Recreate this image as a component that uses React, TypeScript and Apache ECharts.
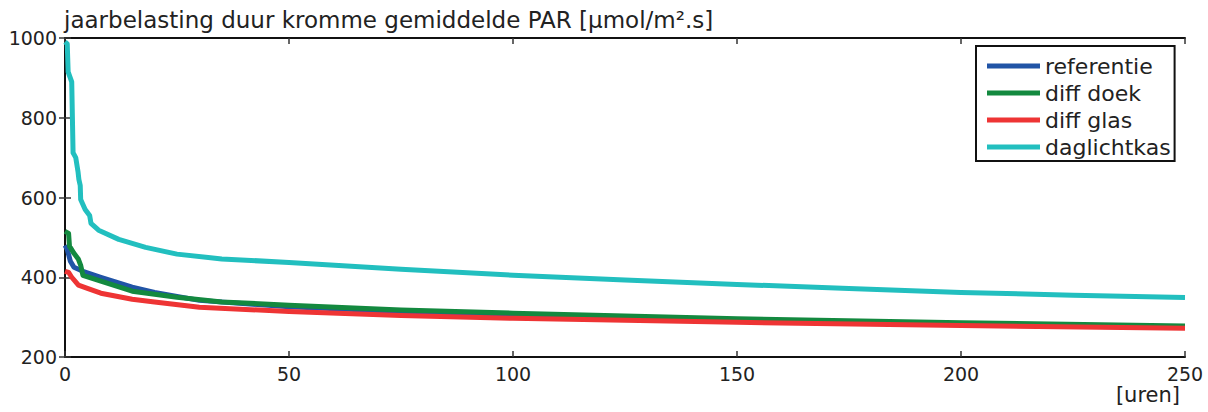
import React, { useEffect, useRef } from 'react';
import * as echarts from 'echarts';

const FONT = 'DejaVu Sans';

const titleText = 'jaarbelasting duur kromme gemiddelde PAR [µmol/m².s]';
const xUnit = '[uren]';
const seriesNames = ['referentie', 'diff doek', 'diff glas', 'daglichtkas'];
const seriesColors = ['#2154a6', '#13893f', '#ee3434', '#22bfbf'];

const refHours = [0, 0.5, 1.2, 2, 4, 8, 15, 20, 30, 50, 75, 100, 150, 200, 250];
const refValues = [480, 470, 440, 425, 415, 400, 375, 362, 342, 326, 314, 304, 291, 281, 274];

const doekHours = [0, 0.8, 1, 2, 3, 3.5, 4, 8, 15, 25, 35, 50, 75, 100, 150, 200, 250];
const doekValues = [515, 510, 478, 460, 445, 430, 405, 390, 365, 350, 338, 330, 318, 310, 296, 286, 278];

const glasHours = [0, 0.8, 1.5, 3, 5, 8, 15, 20, 30, 50, 75, 100, 150, 200, 250];
const glasValues = [415, 412, 400, 380, 372, 360, 345, 338, 325, 314, 304, 297, 287, 279, 272];

const dagHours = [0, 0.5, 0.7, 1.5, 1.8, 2.4, 2.9, 3.1, 3.4, 3.5, 4.5, 5.5, 5.8, 7.5, 12, 18, 25, 35, 50, 75, 100, 125, 150, 175, 200, 225, 250];
const dagValues = [990, 985, 915, 890, 712, 700, 665, 645, 630, 595, 570, 555, 535, 518, 495, 475, 458, 446, 437, 420, 405, 393, 382, 372, 362, 355, 349];

const xTicks = { min: 0, max: 250, interval: 50 };
const yTicks = { min: 200, max: 1000, interval: 200 };

const allHours = [refHours, doekHours, glasHours, dagHours];
const allValues = [refValues, doekValues, glasValues, dagValues];

export default function App() {
  const ref = useRef<HTMLDivElement>(null);
  useEffect(() => {
    document.body.style.margin = '0';
    const chart = echarts.init(ref.current!, null, { renderer: 'svg' });
    const axisLine = { show: true, lineStyle: { color: '#111', width: 2 } };
    const axisTick = { show: true, inside: true, length: 6, lineStyle: { color: '#333', width: 1.5 } };
    const labelStyle = { fontSize: 19, color: '#222', fontFamily: FONT };
    const option: any = {
      animation: false,
      backgroundColor: '#fff',
      grid: { left: 65, right: 23, top: 38, bottom: 55, show: false },
      graphic: [
        { type: 'text', left: 64, top: 8, style: { text: titleText, fontSize: 23, fill: '#222', fontFamily: FONT } },
        { type: 'text', right: 28, top: 384, style: { text: xUnit, fontSize: 21, fill: '#222', fontFamily: FONT } },
      ],
      xAxis: [
        {
          type: 'value', ...xTicks, position: 'bottom', axisLine, axisTick,
          splitLine: { show: false },
          axisLabel: { ...labelStyle, margin: 7, formatter: (v: number) => String(v) },
        },
        {
          type: 'value', ...xTicks, position: 'top', axisLine, axisTick,
          splitLine: { show: false }, axisLabel: { show: false },
        },
      ],
      yAxis: [
        {
          type: 'value', ...yTicks, position: 'left', axisLine, axisTick,
          splitLine: { show: false },
          axisLabel: { ...labelStyle, margin: 8, formatter: (v: number) => String(v) },
        },
        {
          type: 'value', ...yTicks, position: 'right', axisLine, axisTick,
          splitLine: { show: false }, axisLabel: { show: false },
        },
      ],
      legend: {
        show: true,
        left: 976, top: 46,
        orient: 'vertical',
        data: seriesNames,
        backgroundColor: '#fff',
        borderColor: '#111', borderWidth: 2,
        padding: [9, 4, 3, 11],
        itemGap: 5,
        itemWidth: 53, itemHeight: 5,
        icon: 'rect',
        textStyle: { fontSize: 22, color: '#222', fontFamily: FONT },
      },
      series: seriesNames.map((name, i) => ({
        name,
        type: 'line',
        xAxisIndex: 0,
        yAxisIndex: 0,
        showSymbol: false,
        symbol: 'none',
        color: seriesColors[i],
        lineStyle: { width: 5, color: seriesColors[i], join: 'round' },
        data: allHours[i].map((h, j) => [h, allValues[i][j]]),
      })),
    };
    chart.setOption(option);
    return () => chart.dispose();
  }, []);
  return <div ref={ref} style={{ width: 1208, height: 412 }} />;
}
